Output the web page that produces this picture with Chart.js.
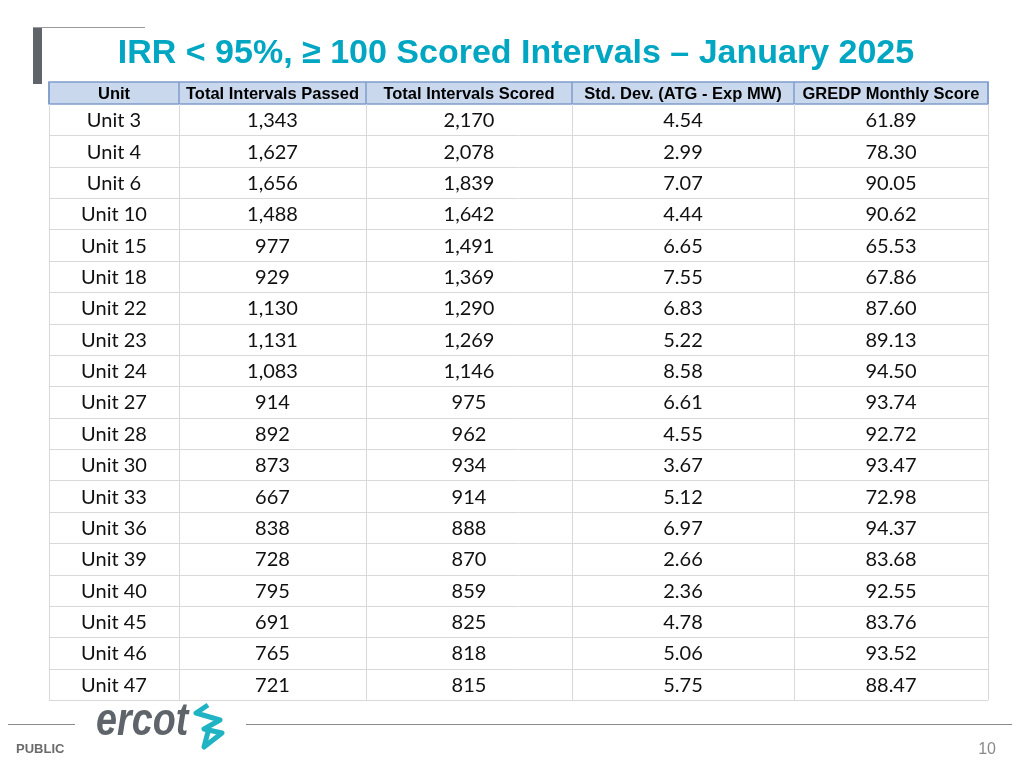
<!DOCTYPE html>
<html><head><meta charset="utf-8">
<script src="https://cdn.jsdelivr.net/npm/chart.js@4"></script>
<style>html,body{margin:0;padding:0;background:#fff}#wrap{width:1024px;height:768px;position:relative}</style>
</head><body><div id="wrap"><canvas id="c" width="1024" height="768"></canvas></div>
<script>
const headers = ["Unit","Total Intervals Passed","Total Intervals Scored","Std. Dev. (ATG - Exp MW)","GREDP Monthly Score"];
const units = ["Unit 3","Unit 4","Unit 6","Unit 10","Unit 15","Unit 18","Unit 22","Unit 23","Unit 24","Unit 27","Unit 28","Unit 30","Unit 33","Unit 36","Unit 39","Unit 40","Unit 45","Unit 46","Unit 47"];
const passed = [1343,1627,1656,1488,977,929,1130,1131,1083,914,892,873,667,838,728,795,691,765,721];
const scored = [2170,2078,1839,1642,1491,1369,1290,1269,1146,975,962,934,914,888,870,859,825,818,815];
const stdDev = [4.54,2.99,7.07,4.44,6.65,7.55,6.83,5.22,8.58,6.61,4.55,3.67,5.12,6.97,2.66,2.36,4.78,5.06,5.75];
const gredp = [61.89,78.30,90.05,90.62,65.53,67.86,87.60,89.13,94.50,93.74,92.72,93.47,72.98,94.37,83.68,92.55,83.76,93.52,88.47];
const colEdges = [49,179,366,572,794,988];

const fmtInt = v => v.toLocaleString('en-US');
const fmt2 = v => v.toFixed(2);
const columns = [units, passed.map(fmtInt), scored.map(fmtInt), stdDev.map(fmt2), gredp.map(fmt2)];

const datasets = columns.map((col,ci)=>({
  label: headers[ci],
  data: col.map((t,ri)=>({x:(colEdges[ci]+colEdges[ci+1])/2, y:ri+0.5, t})),
  pointRadius:0, showLine:false
}));

const tablePlugin = {
  id:'table',
  afterDraw(chart){
    const ctx=chart.ctx, xs=chart.scales.x, ys=chart.scales.y;
    const top=ys.getPixelForValue(0), bot=ys.getPixelForValue(units.length);
    const L=xs.getPixelForValue(colEdges[0]), R=xs.getPixelForValue(colEdges[5]);
    ctx.save();
    const hTop=top-22;
    ctx.fillStyle='#C9D8EC'; ctx.fillRect(L,hTop,R-L,22);
    ctx.strokeStyle='#7F9CCB'; ctx.lineWidth=1.5;
    ctx.strokeRect(L,hTop,R-L,22);
    colEdges.forEach(e=>{const x=xs.getPixelForValue(e);ctx.beginPath();ctx.moveTo(x,hTop);ctx.lineTo(x,top);ctx.stroke();});
    ctx.fillStyle='#000'; ctx.font='bold 16.5px "Liberation Sans", Arial'; ctx.textAlign='center'; ctx.textBaseline='middle';
    headers.forEach((h,i)=>ctx.fillText(h,(xs.getPixelForValue(colEdges[i])+xs.getPixelForValue(colEdges[i+1]))/2,hTop+12));
    ctx.strokeStyle='#D9D9D9'; ctx.lineWidth=1;
    for(let r=1;r<=units.length;r++){const y=Math.round(ys.getPixelForValue(r))+0.5;ctx.beginPath();ctx.moveTo(L,y);ctx.lineTo(R,y);ctx.stroke();}
    colEdges.forEach(e=>{const x=Math.round(xs.getPixelForValue(e))+0.5;ctx.beginPath();ctx.moveTo(x,top);ctx.lineTo(x,bot);ctx.stroke();});
    ctx.font='20px Lato, "Open Sans", sans-serif'; ctx.fillStyle='#111';
    chart.data.datasets.forEach(ds=>ds.data.forEach(p=>ctx.fillText(p.t,xs.getPixelForValue(p.x),ys.getPixelForValue(p.y)+1)));
    ctx.fillStyle='#00A6C2'; ctx.font='bold 34px "Liberation Sans", Arial';
    ctx.fillText('IRR < 95%, ≥ 100 Scored Intervals – January 2025',516,54);
    ctx.fillStyle='#5E6469'; ctx.fillRect(33,27,9,57);
    ctx.strokeStyle='#9A9A9A'; ctx.lineWidth=1; ctx.beginPath(); ctx.moveTo(33,27.5); ctx.lineTo(145,27.5); ctx.stroke();
    ctx.strokeStyle='#8A8A8A'; ctx.beginPath(); ctx.moveTo(8,724.5); ctx.lineTo(75,724.5); ctx.moveTo(246,724.5); ctx.lineTo(1012,724.5); ctx.stroke();
    ctx.save(); ctx.translate(96,735); ctx.scale(0.82,1);
    ctx.fillStyle='#5E6469'; ctx.font='italic bold 46px "Liberation Sans", Arial'; ctx.textAlign='left'; ctx.textBaseline='alphabetic';
    ctx.fillText('ercot',0,0); ctx.restore();
    ctx.textAlign='left'; ctx.textBaseline='alphabetic';
    ctx.strokeStyle='#1FB3C4'; ctx.lineWidth=5; ctx.lineJoin='round';
    ctx.beginPath(); ctx.moveTo(208,705); ctx.lineTo(196,713); ctx.lineTo(220,720); ctx.lineTo(204,729); ctx.lineTo(222,733); ctx.lineTo(204,747); ctx.lineTo(209,728); ctx.stroke();
    ctx.fillStyle='#6B6B6B'; ctx.font='bold 13px "Liberation Sans", Arial'; ctx.fillText('PUBLIC',16,753);
    ctx.fillStyle='#8A8A8A'; ctx.font='16px "Liberation Sans", Arial'; ctx.textAlign='right'; ctx.fillText('10',996,754);
    ctx.restore();
  }
};

new Chart(document.getElementById('c'),{
  type:'scatter',
  data:{datasets},
  options:{
    responsive:false, animation:false, events:[],
    layout:{padding:{left:49,right:36,top:104,bottom:68}},
    plugins:{legend:{display:false},tooltip:{enabled:false}},
    scales:{
      x:{type:'linear',min:colEdges[0],max:colEdges[5],display:false},
      y:{type:'linear',min:0,max:units.length,reverse:true,display:false}
    }
  },
  plugins:[tablePlugin]
});
</script></body></html>
